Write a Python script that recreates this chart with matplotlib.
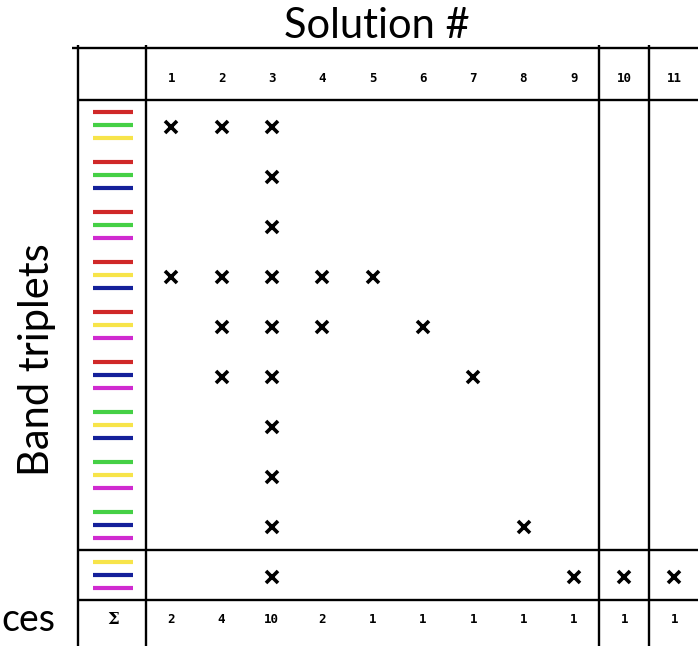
import matplotlib
matplotlib.use("Agg")
import matplotlib.pyplot as plt

# ---------------- data ----------------
solutions = [str(i) for i in range(1, 12)]
triplets = [
    ["red", "green", "yellow"],
    ["red", "green", "blue"],
    ["red", "green", "magenta"],
    ["red", "yellow", "blue"],
    ["red", "yellow", "magenta"],
    ["red", "blue", "magenta"],
    ["green", "yellow", "blue"],
    ["green", "yellow", "magenta"],
    ["green", "blue", "magenta"],
    ["yellow", "blue", "magenta"],
]
# solutions (1-based) marked with an x for each triplet row
marks = [
    [1, 2, 3],
    [3],
    [3],
    [1, 2, 3, 4, 5],
    [2, 3, 4, 6],
    [2, 3, 7],
    [3],
    [3],
    [3, 8],
    [3, 9, 10, 11],
]
totals = [2, 4, 10, 2, 1, 1, 1, 1, 1, 1, 1]

band_colors = {
    "red": "#d02828",
    "green": "#45d045",
    "yellow": "#f7e44a",
    "blue": "#14209a",
    "magenta": "#d02ad0",
}

# ---------------- figure ----------------
W, H, DPI = 698, 646, 100
fig = plt.figure(figsize=(W / DPI, H / DPI), dpi=DPI)
ax = fig.add_axes([0, 0, 1, 1])
ax.set_axis_off()
# data units: one column / one row per unit
ax.set_xlim(-2.401, 11.467)
ax.set_ylim(11.42, -1.5)

lw = 1.7
top, bottom = -0.54, 11.6
left = -0.851
# horizontal lines
ax.plot([left - 0.12, 11.6], [top, top], color="black", lw=lw, solid_capstyle="butt")
for yv in [0.5, 9.5, 10.5]:
    ax.plot([left, 11.6], [yv, yv], color="black", lw=lw, solid_capstyle="butt")
# vertical lines
for xv in [left, 0.5, 9.5, 10.5, 11.5]:
    ax.plot([xv, xv], [top - 0.06, bottom], color="black", lw=lw, solid_capstyle="butt")

label_x = -0.156
bar_half = 0.39
# header numbers
for j, s in enumerate(solutions, start=1):
    ax.text(j, 0.08, s, ha="center", va="center", fontsize=9,
            fontfamily="DejaVu Sans Mono", fontweight="bold")

# triplet rows
row_pos = list(range(1, 10)) + [10]
offsets = [-0.26, 0.0, 0.27]
for r, trip, mk in zip(row_pos, triplets, marks):
    for off, c in zip(offsets, trip):
        ax.plot([label_x - bar_half, label_x + bar_half], [r + off, r + off],
                color=band_colors[c], lw=3.0, solid_capstyle="butt")
    ax.plot(mk, [r + 0.04] * len(mk), linestyle="none", marker="x",
            markersize=8.5, markeredgewidth=2.6, color="black")

# totals row
sum_y = 10.9
ax.text(label_x, sum_y, "Σ", ha="center", va="center", fontsize=12,
        fontfamily="DejaVu Serif", fontweight="bold")
for j, t in enumerate(totals, start=1):
    ax.text(j, sum_y, str(t), ha="center", va="center", fontsize=9,
            fontfamily="DejaVu Sans Mono", fontweight="bold")

# titles
fig.text(377 / W, 1 - 38 / H, "Solution #", ha="center", va="baseline",
         fontsize=30, fontfamily="Lato")
fig.text(37 / W, 1 - 360 / H, "Band triplets", ha="center", va="center",
         rotation=90, fontsize=30, fontfamily="Lato")
fig.text(1 / W, 1 - 620 / H, "ces", ha="left", va="center",
         fontsize=27, fontfamily="Lato")

fig.savefig("out.png", dpi=DPI)
